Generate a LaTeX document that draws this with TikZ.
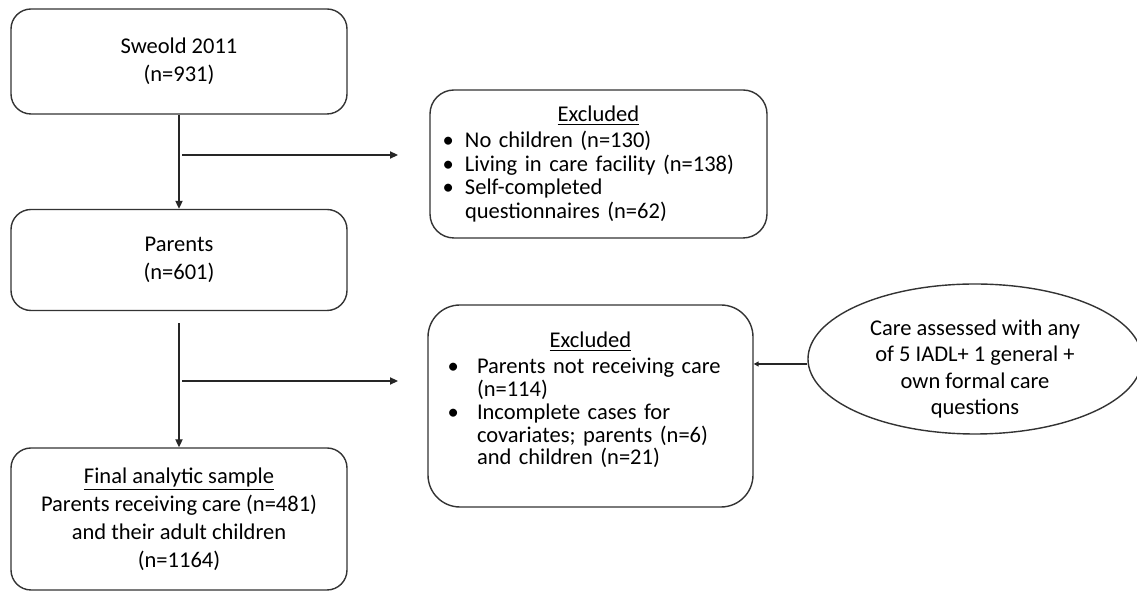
\documentclass[tikz,border=0pt]{standalone}
\usepackage{fontspec}
\setmainfont{Carlito}
\usetikzlibrary{arrows.meta,shapes.geometric}

\newlength{\bulind}\setlength{\bulind}{11.25pt}
\newcommand{\bulitem}[1]{\par\noindent\hangindent=\bulind\hangafter=1\makebox[\bulind][l]{\textbullet}#1}
\newcommand{\nl}{\hfil\break}

\begin{document}
\begin{tikzpicture}[x=0.5pt,y=-0.5pt,
    flowbox/.style={draw=black!80,line width=0.7pt,rounded corners=10pt,minimum width=168pt,inner sep=0pt,align=center,font=\fontsize{11.25}{14}\selectfont},
    exclbox/.style={draw=black!80,line width=0.7pt,rounded corners=12pt,inner sep=0pt,align=left,font=\fontsize{11.25}{11.75}\selectfont},
    flowline/.style={draw=black!85,line width=0.7pt,-{Triangle[length=4pt,width=3.6pt]}}]
        \useasboundingbox (0,0) rectangle (1137,592);
        \node[flowbox,minimum height=52.5pt] at (179,61.5) (sweold) {Sweold 2011\\(n=931)};
        \node[flowbox,minimum height=50.5pt] at (179,260) (parents) {Parents\\(n=601)};
        \node[flowbox,minimum height=71pt] at (179,519) (final) {\underline{Final analytic sample}\\Parents receiving care (n=481)\\and their adult children\\(n=1164)};
        \node[exclbox,minimum width=168.5pt,minimum height=74pt,text width=156pt] at (598.5,164) (excl1) {{\centering\underline{Excluded}\par}\vspace{1.5pt}
            \bulitem{No children (n=130)}
            \bulitem{Living in care facility (n=138)}
            \bulitem{Self-completed\nl questionnaires (n=62)}\par};
        \node[exclbox,rounded corners=16pt,minimum width=162.5pt,minimum height=101pt,text width=143pt,font=\fontsize{11.25}{11.4}\selectfont] at (590.5,406) (excl2) {\setlength{\bulind}{14.75pt}{\centering\underline{Excluded}\par}\vspace{1.5pt}
            \bulitem{Parents not receiving care\nl (n=114)}
            \bulitem{Incomplete cases for\nl covariates; parents (n=6)\nl and children (n=21)\rule[-7.5pt]{0pt}{1pt}}\par};
        \node[draw=black!80,line width=0.7pt,ellipse,minimum width=167pt,minimum height=75pt,inner xsep=0pt,inner ysep=-5pt,align=center,font=\fontsize{11.25}{13.25}\selectfont] at (975,359) (careq) {\rule{0pt}{18pt}Care assessed with any\\of 5 IADL+ 1 general +\\own formal care\\questions};
        \coordinate (branch1) at (182,155);
        \coordinate (toexcl1) at (398,155);
        \coordinate (branch2) at (182,381);
        \coordinate (toexcl2) at (398,381);
        \draw[flowline] (sweold) -- (parents);
        \draw[flowline] (branch1) -- (toexcl1);
        \draw[flowline] ([yshift=-6pt]parents.south) -- (final);
        \draw[flowline] (branch2) -- (toexcl2);
        \draw[flowline,-{Triangle[length=2.5pt,width=2.5pt]}] ([yshift=-2.5pt]careq.west) -- ([yshift=-2.5pt]careq.west -| excl2.east);
    \end{tikzpicture}
\end{document}
